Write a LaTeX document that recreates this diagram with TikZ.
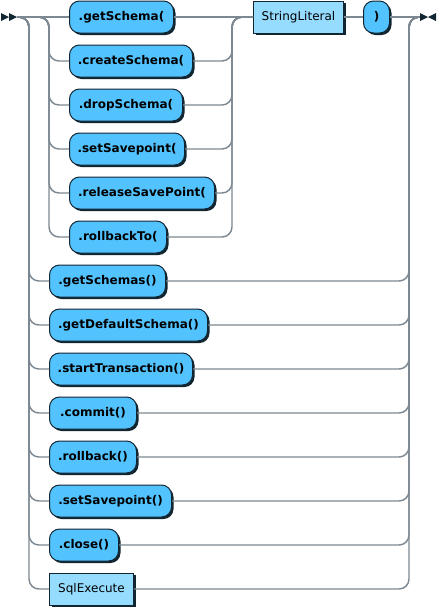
\documentclass[tikz,border=0pt]{standalone}
\usepackage{fontspec}
\usetikzlibrary{shadows}
\newfontfamily\rrfam{DejaVu Sans}
\definecolor{linec}{RGB}{124,136,146}
\definecolor{bordc}{RGB}{18,38,50}
\definecolor{termc}{RGB}{82,195,255}
\definecolor{ntermc}{RGB}{150,220,255}
\tikzset{
  rrbox/.style={draw=bordc, line width=0.75pt, minimum height=24pt,
    minimum width=#1*0.75pt, inner sep=0pt, anchor=west, text=black,
    drop shadow={shadow xshift=1.5pt, shadow yshift=-1.5pt, opacity=1, fill=bordc}},
  term/.style={rrbox=#1, fill=termc, rounded corners=7.5pt,
    font=\rrfam\bfseries\fontsize{9pt}{11pt}\selectfont},
  nterm/.style={rrbox=#1, fill=ntermc, sharp corners,
    font=\rrfam\fontsize{9pt}{11pt}\selectfont},
  rrline/.style={draw=linec, line width=1.1pt, rounded corners=7.5pt},
  tipfill/.style={fill=bordc, draw=none}
}
\begin{document}
\begin{tikzpicture}[x=0.75pt, y=-0.75pt]
\useasboundingbox (0,0) rectangle (438,608);
% junction coordinates
\coordinate (st) at (17,17);
\coordinate (en) at (420,17);
\coordinate (oL) at (29,17);
\coordinate (iL) at (49,17);
\coordinate (iR) at (232,17);
\coordinate (oR) at (409,17);
% inner choice
\node[term=104] (a1) at (69,17)  {.getSchema(};
\node[term=123] (a2) at (69,61)  {.createSchema(};
\node[term=113] (a3) at (69,105) {.dropSchema(};
\node[term=115] (a4) at (69,149) {.setSavepoint(};
\node[term=145] (a5) at (69,193) {.releaseSavePoint(};
\node[term=97]  (a6) at (69,237) {.rollbackTo(};
\node[nterm=90] (sl) at (253,17) {StringLiteral};
\node[term=26]  (rp) at (363,17) {)};
% outer choice
\node[term=116] (b1) at (49,281) {.getSchemas()};
\node[term=158] (b2) at (49,325) {.getDefaultSchema()};
\node[term=143] (b3) at (49,369) {.startTransaction()};
\node[term=87]  (b4) at (49,413) {.commit()};
\node[term=87]  (b5) at (49,457) {.rollback()};
\node[term=122] (b6) at (49,501) {.setSavepoint()};
\node[term=69]  (b7) at (49,545) {.close()};
\node[nterm=84] (b8) at (49,589) {SqlExecute};
% connectors, main line
\draw[rrline] (st) -- (a1.west);
\draw[rrline] (a1.east) -- (sl.west);
\draw[rrline] (sl.east) -- (rp.west);
\draw[rrline] (rp.east) -- (en);
% inner branches
\foreach \n in {a2,a3,a4,a5,a6}{
  \draw[rrline] (st) -- (iL) |- (\n.west);
  \draw[rrline] (\n.east) -| (iR) -- (sl.west);
}
% outer branches
\foreach \n in {b1,b2,b3,b4,b5,b6,b7,b8}{
  \draw[rrline] (st) -- (oL) |- (\n.west);
  \draw[rrline] (\n.east) -| (oR) -- (en);
}
% start and end markers
\fill[tipfill] (1,13) -- (9,17) -- (1,21) -- cycle;
\fill[tipfill] (9,13) -- (17,17) -- (9,21) -- cycle;
\fill[tipfill] (420,13) -- (428,17) -- (420,21) -- cycle;
\fill[tipfill] (436,13) -- (428,17) -- (436,21) -- cycle;
\end{tikzpicture}
\end{document}
